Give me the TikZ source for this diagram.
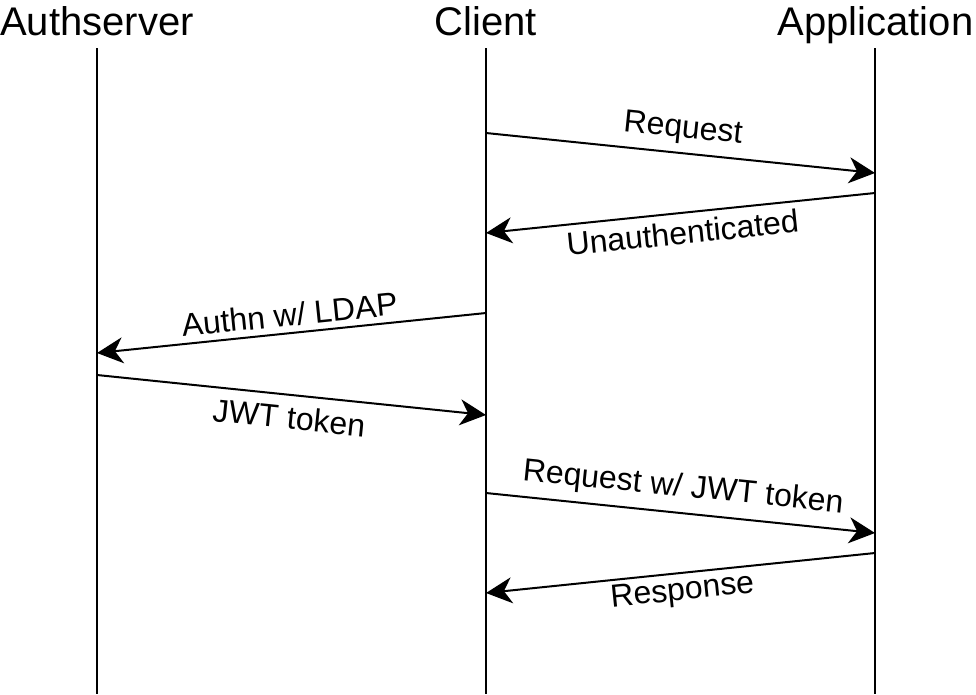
\documentclass[tikz,border=0pt]{standalone}
\usepackage{fontspec}
\setmainfont{Liberation Sans}
\usetikzlibrary{arrows.meta}
\begin{document}
\begin{tikzpicture}[x=1pt,y=-1pt,
  title/.style={font=\fontsize{40}{48}\selectfont, anchor=base, inner sep=0pt},
  lifeline/.style={line width=2pt},
  msg/.style={line width=2pt, -{Stealth[length=26pt,width=26pt,inset=8pt]}},
  lbl/.style={font=\fontsize{32}{38}\selectfont, inner sep=0pt, sloped, midway}]
\useasboundingbox (0,0) rectangle (976,694);
% titles
\node[title] (as) at (97,35) {Authserver};
\node[title] (cl) at (486,35) {Client};
\node[title] (ap) at (875.5,35) {Application};
% lifelines
\coordinate (asT) at (97,48);  \coordinate (asB) at (97,694);
\coordinate (clT) at (486,48); \coordinate (clB) at (486,694);
\coordinate (apT) at (875,48); \coordinate (apB) at (875,694);
\draw[lifeline] (asT) -- (asB);
\draw[lifeline] (clT) -- (clB);
\draw[lifeline] (apT) -- (apB);
% message endpoints
\coordinate (m1s) at (486,133); \coordinate (m1e) at (875,173);
\coordinate (m2s) at (875,193); \coordinate (m2e) at (486,233);
\coordinate (m3s) at (486,313); \coordinate (m3e) at (97,353);
\coordinate (m4s) at (97,375);  \coordinate (m4e) at (486,415);
\coordinate (m5s) at (486,493); \coordinate (m5e) at (875,533);
\coordinate (m6s) at (875,553); \coordinate (m6e) at (486,593);
% messages
\draw[msg] (m1s) -- node[lbl, above=8pt] (l1) {Request} (m1e);
\draw[msg] (m2s) -- node[lbl, below=7pt] (l2) {Unauthenticated} (m2e);
\draw[msg] (m3s) -- node[lbl, above=6pt] (l3) {Authn w/ LDAP} (m3e);
\draw[msg] (m4s) -- node[lbl, below=10pt] (l4) {JWT token} (m4e);
\draw[msg] (m5s) -- node[lbl, above=9pt] (l5) {Request w/ JWT token} (m5e);
\draw[msg] (m6s) -- node[lbl, below=4pt] (l6) {Response} (m6e);
\end{tikzpicture}
\end{document}
